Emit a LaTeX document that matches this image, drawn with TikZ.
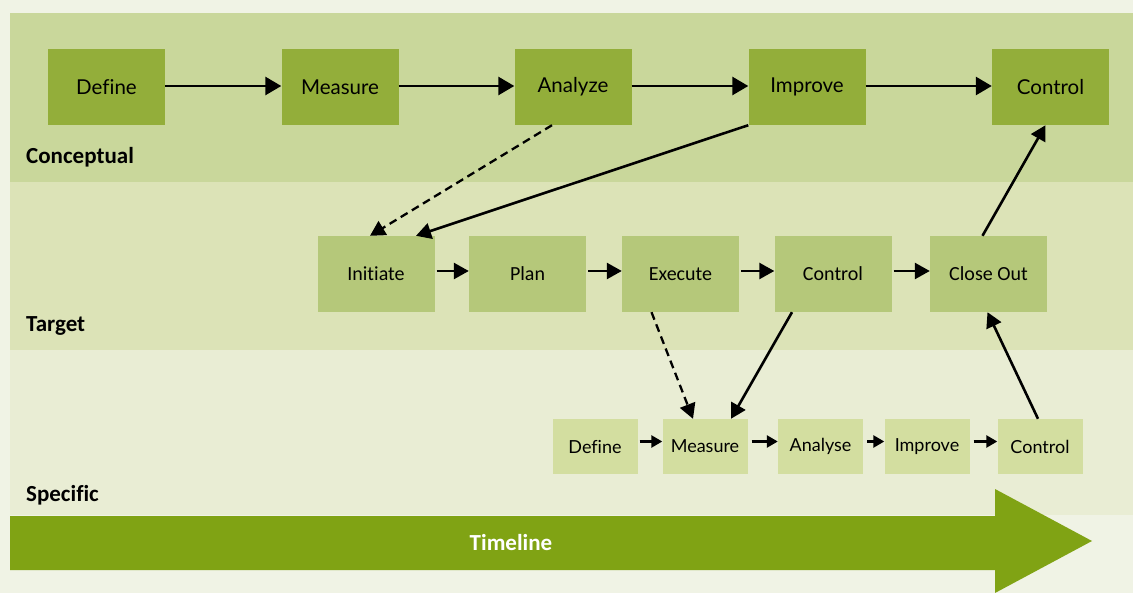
\documentclass[tikz,border=0pt]{standalone}
\usepackage{fontspec}
\setmainfont{Carlito}[Ligatures=NoCommon]
\newfontfamily\gillf{Lato}[Ligatures=NoCommon]
\usetikzlibrary{arrows.meta,calc}
\definecolor{bgc}{HTML}{F0F3E5}
\definecolor{bandA}{HTML}{C9D79B}
\definecolor{bandB}{HTML}{DCE3B7}
\definecolor{bandC}{HTML}{E9EDD4}
\definecolor{boxA}{HTML}{93AE3A}
\definecolor{boxB}{HTML}{B5C87A}
\definecolor{boxC}{HTML}{D3DEA0}
\definecolor{timec}{HTML}{80A314}
\tikzset{
  boxone/.style={fill=boxA,minimum width=117pt,minimum height=76pt,inner sep=0pt,font=\gillf\fontsize{20.5}{22}\selectfont},
  boxtwo/.style={fill=boxB,minimum width=117pt,minimum height=76pt,inner sep=0pt,font=\fontsize{20}{22}\selectfont},
  boxthree/.style={fill=boxC,minimum width=85pt,minimum height=55pt,inner sep=0pt,font=\gillf\fontsize{18}{20}\selectfont},
  bandlabel/.style={anchor=west,inner sep=0pt,font=\bfseries\fontsize{23}{25}\selectfont},
  bigarrow/.style={line width=2.8pt,-{Triangle[length=16pt,width=18pt]}},
  midarrow/.style={line width=2.6pt,-{Triangle[length=15pt,width=16pt]}},
  smallarrow/.style={line width=2.6pt,-{Triangle[length=11pt,width=12pt]}},
  dasharrow/.style={line width=2.3pt,dash pattern=on 8pt off 5pt,-{Triangle[length=15pt,width=16pt]}},
}
\begin{document}
\begin{tikzpicture}[x=1pt,y=-1pt]
\useasboundingbox (0,0) rectangle (1133,593);
\fill[bgc] (0,0) rectangle (1133,593);
\fill[bandA] (10,13) rectangle (1133,182);
\fill[bandB] (10,182) rectangle (1133,350);
\fill[bandC] (10,350) rectangle (1133,515);
% timeline
\fill[timec] (10,516) -- (995,516) -- (995,489) -- (1092,541) -- (995,593) -- (995,570) -- (10,570) -- cycle;
\node[text=white,font=\bfseries\fontsize{23}{25}\selectfont] (tl) at (511,543) {Timeline};
% labels
\node[bandlabel] (lc) at (26,157) {Conceptual};
\node[bandlabel] (lt) at (26,326) {Target};
\node[bandlabel] (ls) at (26,495) {Specific};
% row 1
\node[boxone] (d1) at (106.5,87) {Define};
\node[boxone] (m1) at (340,87) {Measure};
\node[boxone] (a1) at (573,87) {Analyze};
\node[boxone] (i1) at (807,87) {Improve};
\node[boxone] (c1) at (1050.5,87) {Control};
% row 2
\node[boxtwo] (in2) at (376,274) {Initiate};
\node[boxtwo] (p2) at (527.5,274) {Plan};
\node[boxtwo] (e2) at (680.5,274) {Execute};
\node[boxtwo] (c2) at (833,274) {Control};
\node[boxtwo] (co2) at (988.5,274) {Close Out};
% row 3
\node[boxthree] (d3) at (595,446.5) {Define};
\node[boxthree] (m3) at (705,446.5) {Measure};
\node[boxthree] (a3) at (820.5,446.5) {Analyse};
\node[boxthree] (i3) at (927,446.5) {Improve};
\node[boxthree] (c3) at (1040,446.5) {Control};
% row 1 arrows
\draw[bigarrow] ([yshift=1pt]d1.east) -- ([yshift=1pt]m1.west);
\draw[bigarrow] ([yshift=1pt]m1.east) -- ([yshift=1pt]a1.west);
\draw[bigarrow] ([yshift=1pt]a1.east) -- ([yshift=1pt]i1.west);
\draw[bigarrow] ([yshift=1pt]i1.east) -- ([yshift=1pt]c1.west);
% row 2 arrows
\draw[midarrow] ([xshift=2pt,yshift=3pt]in2.east) -- ([yshift=3pt]p2.west);
\draw[midarrow] ([xshift=2pt,yshift=3pt]p2.east) -- ([yshift=3pt]e2.west);
\draw[midarrow] ([xshift=2pt,yshift=3pt]e2.east) -- ([yshift=3pt]c2.west);
\draw[midarrow] ([xshift=2pt,yshift=3pt]c2.east) -- ([yshift=3pt]co2.west);
% row 3 arrows
\draw[smallarrow] ([xshift=2pt,yshift=5pt]d3.east) -- ([yshift=5pt]m3.west);
\draw[smallarrow] ([xshift=4pt,yshift=5pt]m3.east) -- ([yshift=5pt]a3.west);
\draw[smallarrow] ([xshift=4pt,yshift=5pt]a3.east) -- ([yshift=5pt]i3.west);
\draw[smallarrow] ([xshift=4pt,yshift=5pt]i3.east) -- ([yshift=5pt]c3.west);
% cross-level arrows
\draw[dasharrow] ([xshift=-21pt]a1.south) -- ([xshift=-6pt]in2.north);
\draw[midarrow] (i1.south west) -- ([xshift=40pt]in2.north);
\draw[midarrow] ([xshift=-6pt]co2.north) -- ([xshift=-5pt]c1.south);
\draw[dasharrow] ([xshift=-29pt]e2.south) -- ([xshift=-12pt]m3.north);
\draw[midarrow] ([xshift=-41pt]c2.south) -- ([xshift=26pt]m3.north);
\draw[midarrow] ([xshift=-2pt]c3.north) -- ([xshift=-1pt]co2.south);
\end{tikzpicture}
\end{document}
